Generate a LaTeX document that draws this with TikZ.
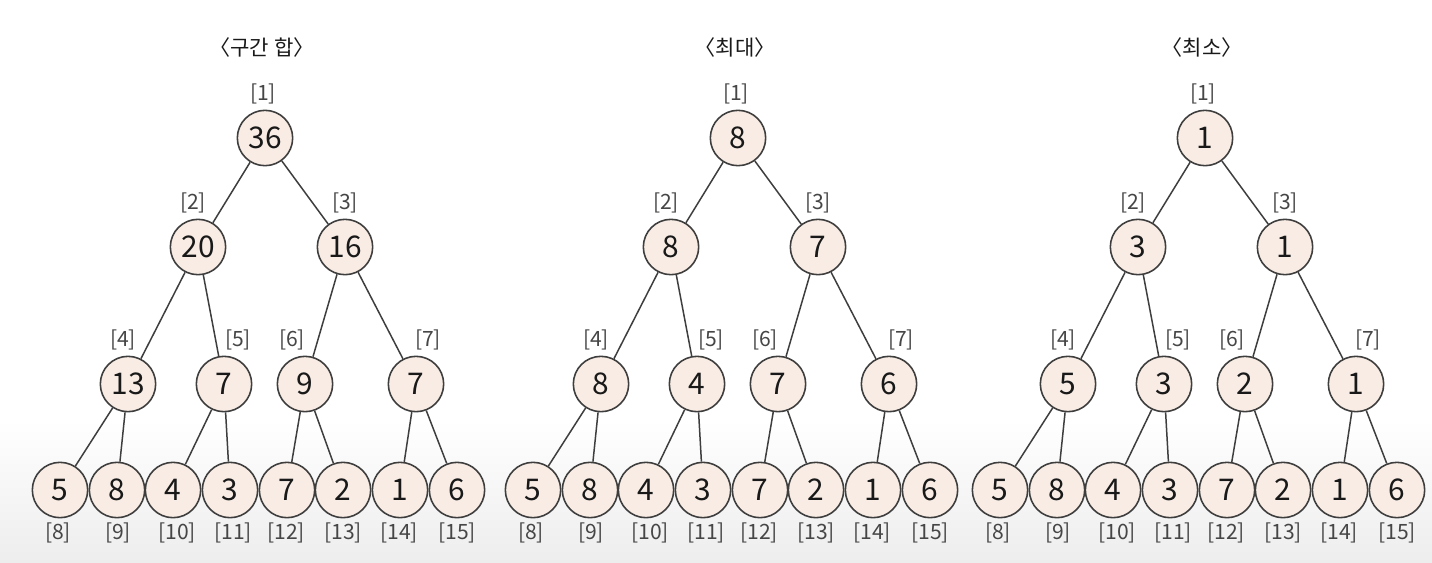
\documentclass[tikz,border=0pt]{standalone}
\usepackage{fontspec}
\setmainfont{Noto Sans CJK KR}
\usetikzlibrary{positioning}
\definecolor{nodefill}{RGB}{248,236,228}
\definecolor{nodeline}{RGB}{62,62,62}
\definecolor{idxgray}{RGB}{70,70,70}

% positions of the 15 tree slots (pixels of the first tree)
\def\posx{{265,198,345,128,224,305,416,60,117,173,230,287,343,400,457}}
\def\posy{{138,247,247,384,384,384,384,490,490,490,490,490,490,490,490}}
\def\idxdx{{-2,-5,0,-5,14,-13,12,-2,1,4,3,-1,0,-1,0}}

\tikzset{
  segnode/.style={circle,draw=nodeline,fill=nodefill,line width=0.9pt,
    minimum size=31.5pt,inner sep=0pt,font=\fontsize{17}{17}\selectfont,text=black!90},
  idxlabel/.style={font=\fontsize{12}{13}\selectfont,text=idxgray},
  treetitle/.style={font=\fontsize{12}{13}\selectfont,text=black!90},
  edge/.style={draw=nodeline,line width=0.85pt}
}

\begin{document}
\begin{tikzpicture}[x=0.02cm,y=-0.02cm]
\shade[top color=white,bottom color=white] (0,0) rectangle (1432,420);
\shade[top color=white,bottom color=black!7] (0,420) rectangle (1432,562);
\useasboundingbox (0,0) rectangle (1432,562);

\foreach \dx/\t/\ttl/\vals in {0/s/{〈구간 합〉}/{36,20,16,13,7,9,7,5,8,4,3,7,2,1,6},
    473/m/{〈최대〉}/{8,8,7,8,4,7,6,5,8,4,3,7,2,1,6},
    940/n/{〈최소〉}/{1,3,1,5,3,2,1,5,8,4,3,7,2,1,6}}{
  \node[treetitle] (\t title) at (262+\dx,47) {\ttl};
  \foreach \v [count=\i] in \vals {
    \pgfmathsetmacro\nx{\posx[\i-1]+\dx}
    \pgfmathsetmacro\ny{\posy[\i-1]}
    \pgfmathsetmacro\lx{\nx+\idxdx[\i-1]}
    \node[segnode] (\t\i) at (\nx,\ny) {\v};
    \ifnum\i<8
      \node[idxlabel] (\t l\i) at (\lx,\ny-44) {[\i]};
    \else
      \node[idxlabel] (\t l\i) at (\lx,\ny+43) {[\i]};
    \fi
  }
  % children j hang from parent j/2
  \foreach \j in {2,...,15}{
    \pgfmathtruncatemacro\p{\j/2}
    \draw[edge] (\t\p) -- (\t\j);
  }
}
\end{tikzpicture}
\end{document}
